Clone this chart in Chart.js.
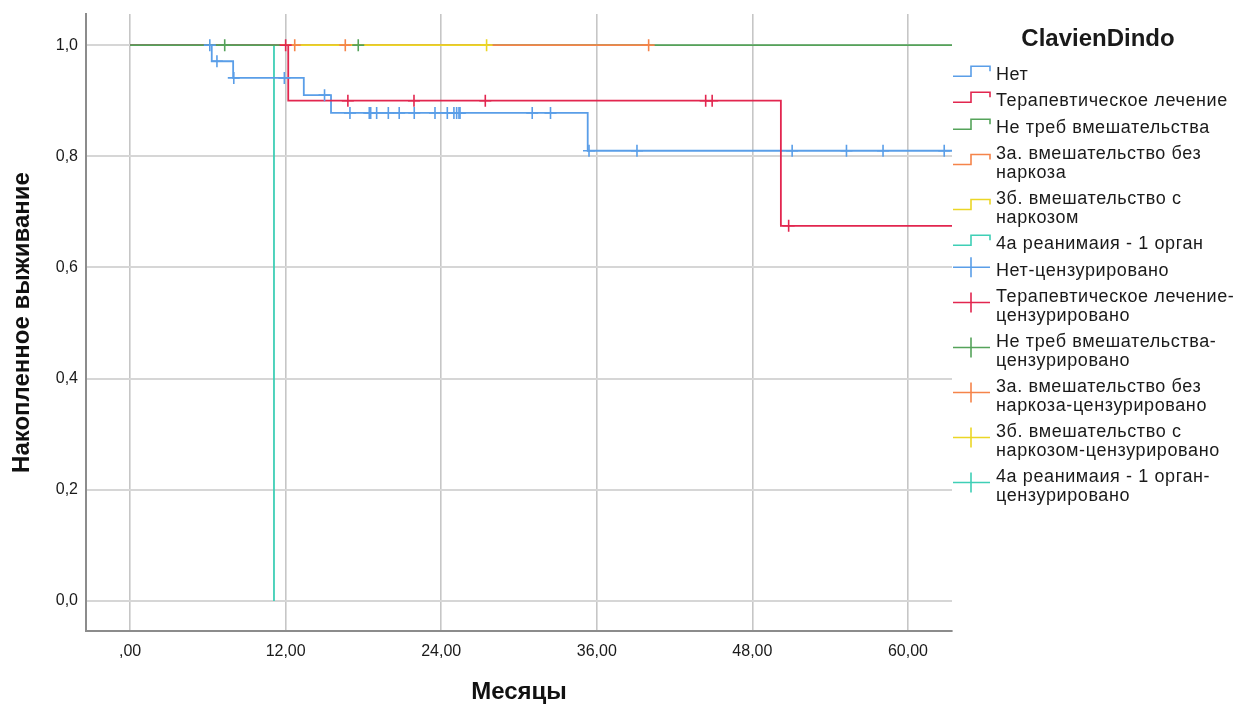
<!DOCTYPE html>
<html lang="ru">
<head>
<meta charset="utf-8">
<title>ClavienDindo — функции выживания</title>
<script src="https://cdn.jsdelivr.net/npm/chart.js@4.4.1/dist/chart.umd.min.js"></script>
<style>
  html, body { margin: 0; padding: 0; background: #fff; }
  #wrap { position: relative; width: 1240px; height: 704px; font-family: "Liberation Sans", Arial, sans-serif; }
  #km { position: absolute; left: 0; top: 0; }
  #legend { position: absolute; left: 952px; top: 0; width: 288px; height: 704px; color: #1a1a1a; }
  #legend .title { position: absolute; left: 0; top: 23px; width: 292px; text-align: center; font-weight: bold; font-size: 24px; line-height: 30px; }
  #legend .item { position: absolute; left: 0; width: 288px; }
  #legend .item svg { position: absolute; left: 0; overflow: visible; }
  #legend .item .txt { position: absolute; left: 44px; top: 0; white-space: nowrap; font-size: 18px; line-height: 18.5px; letter-spacing: 0.6px; }
</style>
</head>
<body>
<div id="wrap">
  <canvas id="km" width="1240" height="704"></canvas>
  <div id="legend"><div class="title">ClavienDindo</div></div>
</div>
<script>
// Axis ticks and their printed labels
const monthTicks = [0, 12, 24, 36, 48, 60];
const monthLabels = [',00', '12,00', '24,00', '36,00', '48,00', '60,00'];
const survTicks = [0, 0.2, 0.4, 0.6, 0.8, 1.0];
const survLabels = ['0,0', '0,2', '0,4', '0,6', '0,8', '1,0'];

// Groups (ClavienDindo)
const groupNames = ['Нет', 'Терапевтическое лечение', 'Не треб вмешательства',
  '3а. вмешательство без наркоза', '3б. вмешательство с наркозом', '4а реанимаия - 1 орган'];
const groupColors = ['#5a9ee8', '#e2264f', '#55a35a', '#f5844a', '#ebd626', '#3fcfb6'];

// Step curves: times where the curve starts / drops / ends, and survival from that time on
const netTimes = [0, 6.3, 7.95, 13.4, 15.5, 35.3, 64];
const netSurv = [1, 0.971, 0.941, 0.910, 0.878, 0.810, 0.810];
const terTimes = [0, 12.2, 50.2, 64];
const terSurv = [1, 0.900, 0.675, 0.675];
const neTrebTimes = [0, 64];
const neTrebSurv = [1, 1];
const g3aTimes = [11.6, 40.0];
const g3aSurv = [1, 1];
const g3bTimes = [11.6, 27.5];
const g3bSurv = [1, 1];
const g4aTimes = [0, 11.1];
const g4aSurv = [1, 0];

// Censored observations (months)
const netCens = [6.15, 6.7, 8.0, 11.9, 15.0, 16.96, 18.45, 18.56, 19.02, 19.92, 20.76, 21.92, 23.52,
  24.47, 24.98, 25.19, 25.37, 25.45, 31.02, 32.43, 35.4, 39.1, 51.07, 55.26, 58.08, 62.8];
const terCens = [12.0, 16.8, 21.9, 27.4, 44.4, 44.9, 50.8];
const neTrebCens = [7.3, 17.6];
const g3aCens = [12.7, 16.6, 40.0];
const g3bCens = [27.5];
const g4aCens = [];

const curveTimes = [netTimes, terTimes, neTrebTimes, g3aTimes, g3bTimes, g4aTimes];
const curveSurv = [netSurv, terSurv, neTrebSurv, g3aSurv, g3bSurv, g4aSurv];
const censTimes = [netCens, terCens, neTrebCens, g3aCens, g3bCens, g4aCens];

// Legend text lines
const legendLines = [
  ['Нет'], ['Терапевтическое лечение'], ['Не треб вмешательства'],
  ['3а. вмешательство без', 'наркоза'], ['3б. вмешательство с', 'наркозом'], ['4а реанимаия - 1 орган'],
  ['Нет-цензурировано'], ['Терапевтическое лечение-', 'цензурировано'], ['Не треб вмешательства-', 'цензурировано'],
  ['3а. вмешательство без', 'наркоза-цензурировано'], ['3б. вмешательство с', 'наркозом-цензурировано'],
  ['4а реанимаия - 1 орган-', 'цензурировано']
];

// value of a step curve at time t
function stepValue(times, surv, t) {
  let v = surv[0];
  for (let i = 0; i < times.length; i++) if (times[i] <= t) v = surv[i];
  return v;
}

// stacking: censor marks on top, then yellow, orange, green, red, blue, teal underneath
const lineOrder = [10, 9, 8, 7, 6, 11];
const datasets = [];
groupNames.forEach((name, g) => {
  datasets.push({
    label: name,
    data: curveTimes[g].map((t, i) => ({ x: t, y: curveSurv[g][i] })),
    borderColor: groupColors[g],
    borderWidth: 1.8,
    stepped: 'before',
    pointRadius: 0,
    fill: false,
    order: lineOrder[g]
  });
});
groupNames.forEach((name, g) => {
  datasets.push({
    label: name + '-цензурировано',
    data: censTimes[g].map(t => ({ x: t, y: stepValue(curveTimes[g], curveSurv[g], t) })),
    showLine: false,
    pointStyle: 'cross',
    pointRadius: 6,
    pointHoverRadius: 6,
    pointBorderWidth: 1.6,
    borderColor: groupColors[g],
    backgroundColor: groupColors[g],
    order: g
  });
});

const FONT = '"Liberation Sans", Arial, sans-serif';

new Chart(document.getElementById('km'), {
  type: 'line',
  data: { datasets },
  options: {
    responsive: false,
    animation: false,
    events: [],
    layout: { padding: { left: 0, top: 14, right: 288, bottom: 0 } },
    plugins: { legend: { display: false }, tooltip: { enabled: false } },
    scales: {
      x: {
        type: 'linear',
        min: -3.4,
        max: 63.4,
        afterBuildTicks: s => { s.ticks = monthTicks.map(v => ({ value: v })); },
        afterFit: s => { s.height = 73; s.paddingLeft = 0; s.paddingRight = 0; },
        ticks: {
          callback: (v, i) => monthLabels[i],
          font: { family: FONT, size: 16 },
          color: '#1a1a1a',
          padding: 11,
          maxRotation: 0,
          autoSkip: false
        },
        grid: { color: '#c6c6c6', lineWidth: 1.6, drawTicks: false },
        border: { color: '#8c8c8c', width: 2 },
        title: {
          display: true,
          text: 'Месяцы',
          font: { family: FONT, size: 24, weight: 'bold', lineHeight: 1 },
          color: '#111',
          padding: { top: 0, bottom: 0 }
        }
      },
      y: {
        type: 'linear',
        min: -0.054,
        max: 1.056,
        afterBuildTicks: s => { s.ticks = survTicks.map(v => ({ value: v })); },
        afterFit: s => { s.width = 86; s.paddingTop = 0; s.paddingBottom = 0; },
        ticks: {
          callback: (v, i) => survLabels[i],
          font: { family: FONT, size: 16 },
          color: '#1a1a1a',
          padding: 8,
          autoSkip: false
        },
        grid: { color: '#d6d6d6', lineWidth: 2, drawTicks: false },
        border: { color: '#8c8c8c', width: 2 },
        title: {
          display: true,
          text: 'Накопленное выживание',
          font: { family: FONT, size: 24, weight: 'bold', lineHeight: 1 },
          color: '#111',
          padding: { top: 10, bottom: 0 }
        }
      }
    }
  }
});

// Legend: step glyphs for curves, crosses for censored marks
const legendBox = document.getElementById('legend');
const NS = 'http://www.w3.org/2000/svg';
let itemTop = 64.5;
legendLines.forEach((lines, k) => {
  const g = k % 6;
  const censored = k >= 6;
  const h = lines.length * 18.5;
  const item = document.createElement('div');
  item.className = 'item';
  item.style.top = itemTop + 'px';
  item.style.height = h + 'px';
  const svg = document.createElementNS(NS, 'svg');
  svg.setAttribute('width', '40');
  svg.setAttribute('height', String(h));
  const c = h / 2 - 3;
  const path = document.createElementNS(NS, 'path');
  path.setAttribute('d', censored
    ? `M1 ${c} H38 M19 ${c - 10} V${c + 10}`
    : `M1 ${c + 5} H19 V${c - 5} H38 V${c}`);
  path.setAttribute('fill', 'none');
  path.setAttribute('stroke', groupColors[g]);
  path.setAttribute('stroke-width', '1.6');
  svg.appendChild(path);
  item.appendChild(svg);
  const txt = document.createElement('div');
  txt.className = 'txt';
  lines.forEach((s, j) => {
    if (j) txt.appendChild(document.createElement('br'));
    txt.appendChild(document.createTextNode(s));
  });
  item.appendChild(txt);
  legendBox.appendChild(item);
  itemTop += h + 8;
});
</script>
</body>
</html>
